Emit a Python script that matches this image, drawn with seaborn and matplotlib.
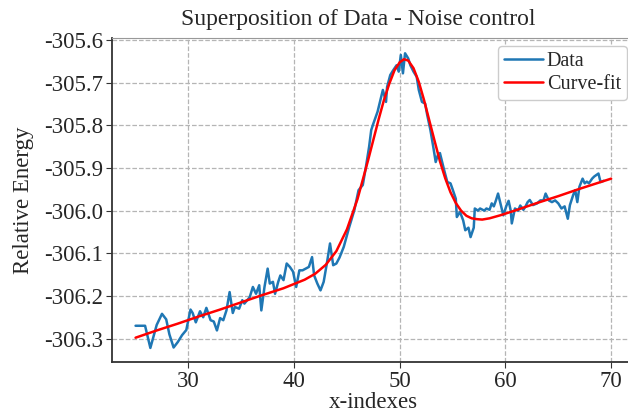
import matplotlib
matplotlib.use("Agg")
import matplotlib.pyplot as plt
import pandas as pd
import seaborn as sns

# noisy data
data_x = [25.0, 25.9, 26.4, 27.0, 27.5, 27.9, 28.2, 28.6, 29.0, 29.4, 29.8, 30.2, 30.4, 30.7,
          31.1, 31.4, 31.7, 32.1, 32.4, 32.7, 33.0, 33.3, 33.6, 33.9, 34.2, 34.4, 34.8, 35.1,
          35.3, 35.8, 36.1, 36.4, 36.7, 36.9, 37.2, 37.5, 37.7, 38.0, 38.2, 38.5, 38.7, 39.0,
          39.3, 39.6, 39.9, 40.2, 40.5, 40.8, 41.1, 41.4, 41.7, 41.9, 42.2, 42.5, 42.8, 43.1,
          43.4, 43.7, 44.0, 44.3, 44.7, 45.0, 45.2, 45.5, 45.7, 46.1, 46.5, 46.8, 47.1, 47.3,
          47.5, 47.9, 48.2, 48.4, 48.7, 48.8, 49.1, 49.4, 49.7, 49.9, 50.1, 50.3, 50.5, 50.8,
          51.0, 51.3, 51.6, 51.8, 52.1, 52.4, 52.6, 52.9, 53.2, 53.4, 53.6, 53.8, 54.2, 54.5,
          54.8, 55.0, 55.3, 55.4, 55.7, 56.0, 56.2, 56.5, 56.7, 57.0, 57.1, 57.4, 57.6, 58.0,
          58.2, 58.5, 58.7, 58.9, 59.1, 59.3, 59.6, 59.8, 60.1, 60.3, 60.5, 60.6, 60.9, 61.2,
          61.4, 61.7, 61.9, 62.1, 62.3, 62.6, 63.0, 63.3, 63.6, 63.8, 64.1, 64.4, 64.7, 65.0,
          65.3, 65.6, 65.9, 66.1, 66.4, 66.6, 66.8, 67.0, 67.3, 67.5, 67.7, 67.9, 68.2, 68.4,
          68.8, 69.0, 69.3]
data_y = [-306.270, -306.270, -306.322, -306.268, -306.242, -306.255, -306.290, -306.321,
          -306.308, -306.292, -306.280, -306.232, -306.240, -306.262, -306.236, -306.250,
          -306.228, -306.257, -306.260, -306.281, -306.252, -306.257, -306.234, -306.191,
          -306.240, -306.226, -306.230, -306.210, -306.218, -306.203, -306.179, -306.195,
          -306.175, -306.234, -306.179, -306.136, -306.171, -306.167, -306.195, -306.167,
          -306.152, -306.163, -306.124, -306.132, -306.143, -306.179, -306.140, -306.140,
          -306.136, -306.132, -306.109, -306.152, -306.171, -306.187, -306.167, -306.124,
          -306.077, -306.128, -306.124, -306.110, -306.085, -306.058, -306.040, -306.015,
          -305.999, -305.952, -305.940, -305.897, -305.850, -305.811, -305.796, -305.768,
          -305.737, -305.717, -305.745, -305.710, -305.682, -305.670, -305.659, -305.674,
          -305.635, -305.678, -305.631, -305.643, -305.659, -305.674, -305.686, -305.717,
          -305.745, -305.749, -305.776, -305.811, -305.855, -305.886, -305.870, -305.865,
          -305.905, -305.933, -305.936, -305.950, -305.972, -306.015, -306.003, -306.023,
          -306.046, -306.040, -306.062, -306.040, -305.995, -306.000, -305.995, -306.000,
          -305.995, -305.998, -305.983, -305.990, -305.976, -305.960, -305.990, -306.011,
          -305.988, -305.977, -306.000, -306.030, -305.995, -306.000, -305.988, -305.998,
          -305.990, -305.980, -305.975, -305.987, -305.983, -305.976, -305.976, -305.960,
          -305.976, -305.980, -305.976, -305.983, -305.995, -305.990, -306.019, -305.987,
          -305.964, -305.952, -305.980, -305.944, -305.925, -305.936, -305.932, -305.936,
          -305.925, -305.920, -305.913, -305.933, -305.930]

# fitted curve
fit_x = [25, 27, 29, 31, 33, 35, 37, 39, 40, 41, 42, 43, 44, 45, 46, 47, 48, 48.5, 49, 49.5,
         50, 50.4, 50.8, 51.3, 51.8, 52.3, 52.8, 53.3, 53.8, 54.3, 54.8, 55.3, 55.8, 56.3,
         56.8, 57.3, 57.8, 58.5, 59.5, 61, 63, 65, 67, 70]
fit_y = [-306.298, -306.281, -306.265, -306.248, -306.232, -306.215, -306.198, -306.182,
         -306.172, -306.162, -306.148, -306.127, -306.095, -306.044, -305.973, -305.882,
         -305.786, -305.741, -305.703, -305.671, -305.652, -305.645, -305.648, -305.666,
         -305.698, -305.741, -305.789, -305.837, -305.884, -305.924, -305.957, -305.982,
         -306.000, -306.012, -306.018, -306.020, -306.021, -306.018, -306.011, -305.999,
         -305.982, -305.966, -305.949, -305.925]

df_data = pd.DataFrame({"x": data_x, "y": data_y})
df_fit = pd.DataFrame({"x": fit_x, "y": fit_y})

sns.set_style("whitegrid", {"grid.linestyle": "--", "grid.color": "#b5b5b5",
                            "axes.edgecolor": "#333333"})
plt.rcParams['font.family'] = ['Liberation Serif', 'DejaVu Serif']
plt.rcParams['xtick.bottom'] = True
plt.rcParams['ytick.left'] = True

fig, ax = plt.subplots(figsize=(6.28, 4.19), dpi=100)
# the right edge of the axes is cut off by the figure, as in the reference
fig.subplots_adjust(left=0.178, right=1.011, top=0.9105, bottom=0.135)

sns.lineplot(data=df_data, x="x", y="y", ax=ax, color="#1f77b4", linewidth=1.8,
             sort=False, label="Data")
sns.lineplot(data=df_fit, x="x", y="y", ax=ax, color="red", linewidth=1.8,
             sort=False, label="Curve-fit")

ax.set_xlim(22.75, 72.25)
ax.set_ylim(-306.356, -305.594)
ax.set_xticks([30, 40, 50, 60, 70])
ax.set_yticks([-305.6, -305.7, -305.8, -305.9, -306.0, -306.1, -306.2, -306.3])
ax.set_yticklabels(["-305.6", "-305.7", "-305.8", "-305.9", "-306.0", "-306.1",
                    "-306.2", "-306.3"])
ax.set_xticklabels(["30", "40", "50", "60", "70"])
ax.tick_params(axis="both", labelsize=16.5, length=4, color="#333333", pad=2)

ax.grid(True, linestyle="--", color="#b5b5b5", linewidth=0.9)
for side in ["left", "bottom"]:
    ax.spines[side].set_color("#333333")
    ax.spines[side].set_linewidth(1.3)
ax.spines["top"].set_color("#999999")
ax.spines["right"].set_visible(False)

ax.set_title("Superposition of Data - Noise control", fontsize=17, pad=9, x=0.472)
ax.set_xlabel("x-indexes", fontsize=16.5, labelpad=0)
ax.set_ylabel("Relative Energy", fontsize=16.5, labelpad=7.5)

ax.legend(loc="upper right", fontsize=14.5, handlelength=1.9, handletextpad=0.2,
          borderaxespad=0.4, borderpad=0.3, labelspacing=0.2, framealpha=1,
          edgecolor="#cccccc", fancybox=True)

fig.savefig("out.png", dpi=100)
